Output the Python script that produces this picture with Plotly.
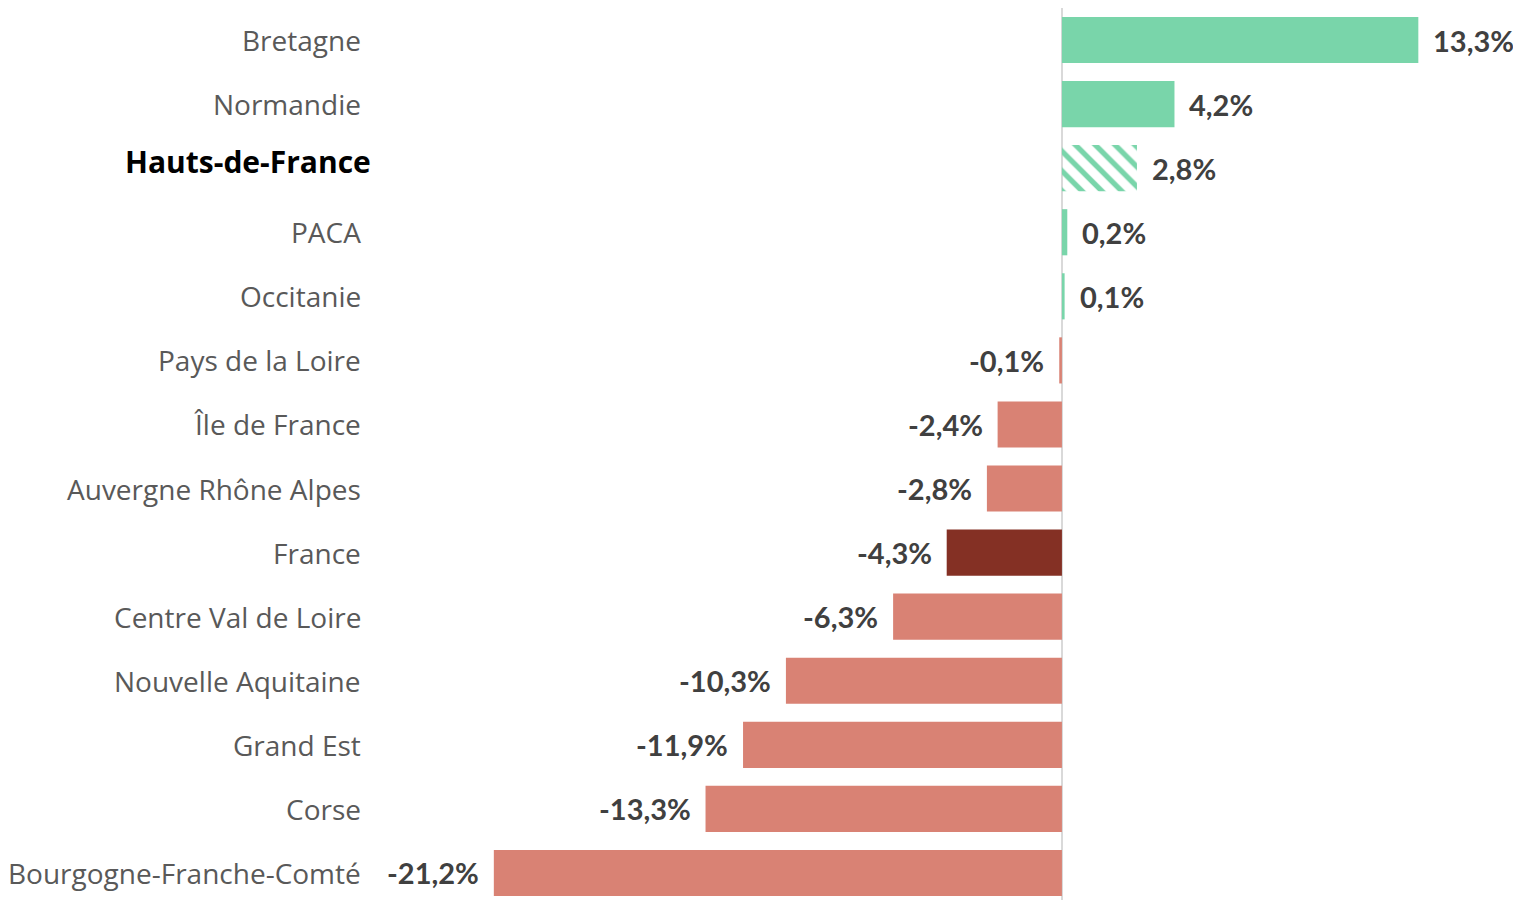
import plotly.graph_objects as go

regions = [
    "Bretagne", "Normandie", "Hauts-de-France", "PACA", "Occitanie",
    "Pays de la Loire", "Île de France", "Auvergne Rhône Alpes", "France",
    "Centre Val de Loire", "Nouvelle Aquitaine", "Grand Est", "Corse",
    "Bourgogne-Franche-Comté",
]
evolution = [13.3, 4.2, 2.8, 0.2, 0.1, -0.1, -2.4, -2.8, -4.3, -6.3, -10.3, -11.9, -13.3, -21.2]
highlight = "Hauts-de-France"
national = "France"

GREEN = "#79d5aa"
RED = "#d98274"
DARK = "#843024"


def bar_color(name, v):
    if name == national:
        return DARK
    return GREEN if v >= 0 else RED


colors = [bar_color(r, v) for r, v in zip(regions, evolution)]
patterns = ["\\" if r == highlight else "" for r in regions]

fig = go.Figure(go.Bar(
    x=evolution,
    y=regions,
    orientation="h",
    width=0.72,
    marker=dict(
        color=colors,
        line_width=0,
        pattern=dict(shape=patterns, bgcolor="white", size=14,
                     solidity=0.38, fillmode="replace"),
    ),
    hoverinfo="skip",
))

# value labels next to the bar ends
for r, v in zip(regions, evolution):
    fig.add_annotation(
        x=v, y=r, xref="x", yref="y",
        text="<b>" + f"{v:.1f}".replace(".", ",") + "%</b>",
        showarrow=False,
        xanchor="left" if v >= 0 else "right",
        xshift=13 if v >= 0 else -13,
        font=dict(family="Lato", size=29, color="#404040"),
    )

# category labels on the left
for r in regions:
    if r == highlight:
        txt, font = "<b>" + r + "</b>", dict(family="Open Sans", size=30, color="black")
        xr, dy = 0.2400, 7
    else:
        txt, font = r, dict(family="Open Sans", size=28, color="#595959")
        xr, dy = 0.2335, 0
    fig.add_annotation(
        x=xr, y=r, xref="paper", yref="y", text=txt, showarrow=False,
        xanchor="right", yshift=dy, font=font,
    )

fig.update_layout(
    width=1521, height=900,
    margin=dict(l=0, r=0, t=0, b=3),
    paper_bgcolor="white", plot_bgcolor="white",
    showlegend=False,
    xaxis=dict(range=[-39.33, 17.43], showgrid=False, showticklabels=False,
               zeroline=True, zerolinecolor="#d9d9d9", zerolinewidth=2),
    yaxis=dict(autorange="reversed", showticklabels=False, showgrid=False),
)

fig.write_html("out.html")
